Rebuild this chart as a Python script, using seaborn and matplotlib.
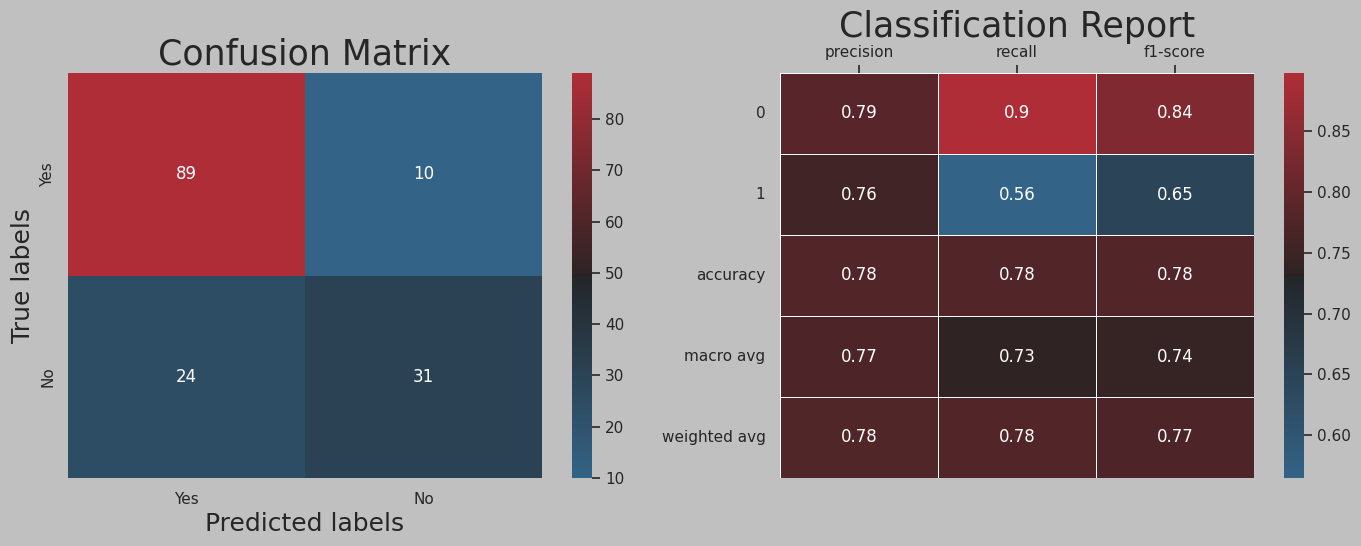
import numpy as np
import pandas as pd
import matplotlib
matplotlib.use("Agg")
import matplotlib.pyplot as plt
import seaborn as sns

# Data
cm_labels = ["Yes", "No"]
cm_values = [[89, 10],
             [24, 31]]

report_rows = ["0", "1", "accuracy", "macro avg", "weighted avg"]
report_cols = ["precision", "recall", "f1-score"]
precision = [0.787, 0.757, 0.779, 0.772, 0.776]
recall = [0.898, 0.5648, 0.779, 0.733, 0.779]
f1_score = [0.839, 0.647, 0.779, 0.743, 0.772]

sns.set_theme(style="dark", rc={
    "figure.facecolor": "#c0c0c0",
    "axes.facecolor": "#c0c0c0",
    "text.color": "#262626",
    "axes.labelcolor": "#262626",
    "xtick.color": "#262626",
    "ytick.color": "#262626",
})
plt.rcParams['font.family'] = ['DejaVu Sans']

cmap = sns.diverging_palette(240, 10, s=75, l=40, center="dark", as_cmap=True)

W, H = 1361, 546
fig = plt.figure(figsize=(W / 100, H / 100), dpi=100)

def box(x0, x1, y0, y1):
    return [x0 / W, (H - y1) / H, (x1 - x0) / W, (y1 - y0) / H]

ax1 = fig.add_axes(box(68, 542, 73, 478))
cax1 = fig.add_axes(box(572, 592, 73, 478))
ax2 = fig.add_axes(box(780, 1254, 73, 478))
cax2 = fig.add_axes(box(1284, 1304, 73, 478))

cm_df = pd.DataFrame(cm_values, index=cm_labels, columns=cm_labels)
sns.heatmap(cm_df, annot=True, fmt="d", cmap=cmap, ax=ax1, cbar_ax=cax1,
            annot_kws={"size": 12})
ax1.set_title("Confusion Matrix", fontsize=25)
ax1.set_xlabel("Predicted labels", fontsize=18)
ax1.set_ylabel("True labels", fontsize=18)
ax1.tick_params(axis="x", length=0, labelsize=11, pad=10)
ax1.tick_params(axis="y", length=0, labelsize=11, pad=9)
ax1.set_yticklabels(cm_labels, rotation=90, va="center")

rep_df = pd.DataFrame({"precision": precision, "recall": recall, "f1-score": f1_score},
                      index=report_rows)[report_cols]
sns.heatmap(rep_df, annot=True, fmt=".2g", cmap=cmap, ax=ax2, cbar_ax=cax2,
            linewidths=0.6, linecolor="white", annot_kws={"size": 12})
ax2.xaxis.tick_top()
ax2.tick_params(axis="x", length=6, width=1.2, labelsize=11, top=True, bottom=False)
ax2.tick_params(axis="y", length=0, labelsize=11, rotation=0, pad=10.5)
ax2.set_title("Classification Report", fontsize=25, pad=26)

for cax in (cax1, cax2):
    cax.tick_params(length=6, width=1.2, labelsize=11, right=True)

fig.savefig("out.png", dpi=100, facecolor=fig.get_facecolor())
